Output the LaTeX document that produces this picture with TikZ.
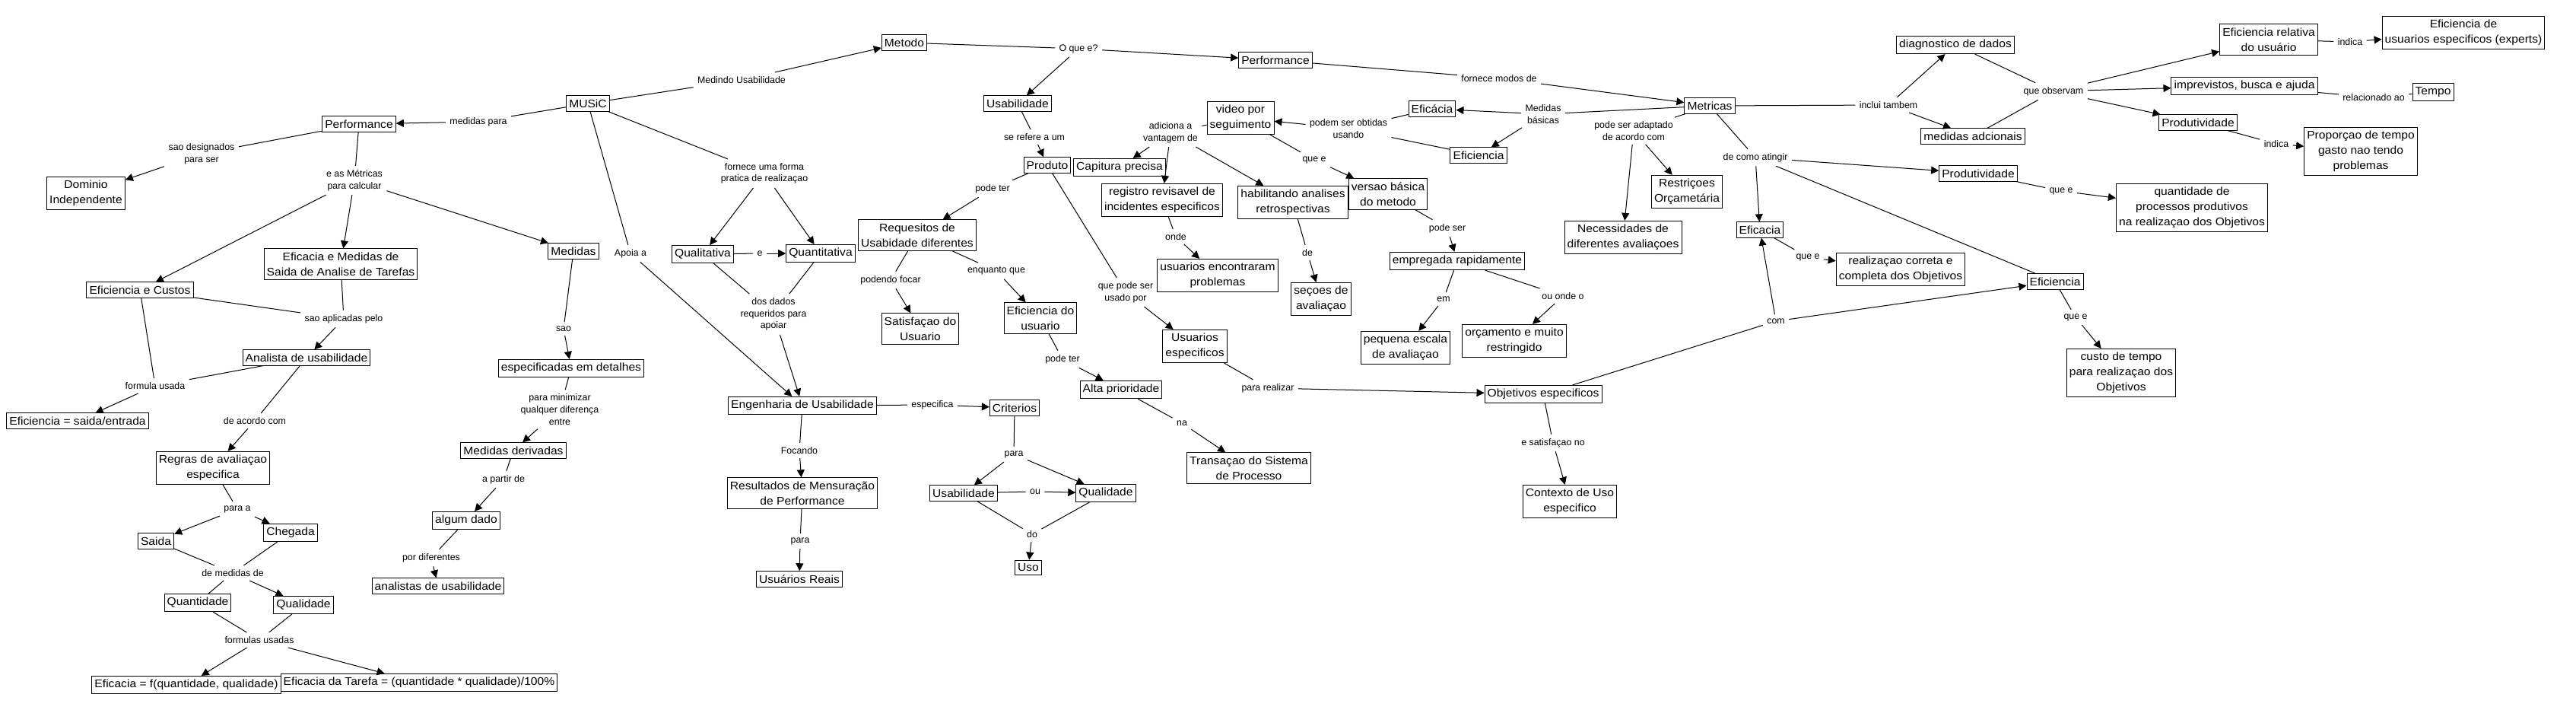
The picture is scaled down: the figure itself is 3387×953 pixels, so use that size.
\documentclass[tikz,border=0pt]{standalone}
\usepackage{fontspec}
\newfontfamily\cmapcfam[FakeStretch=1.07]{Liberation Sans}
\newfontfamily\cmaplfam{Liberation Sans}
\usetikzlibrary{arrows.meta}
\newcommand\cmapcfont{\cmapcfam\fontsize{7.3}{10}\selectfont}
\newcommand\cmaplfont{\cmaplfam\fontsize{6.2}{7.8}\selectfont}
\begin{document}
\begin{tikzpicture}[x=0.5pt,y=-0.5pt,line width=0.5pt,
  concept/.style={draw,line width=0.5pt,font=\cmapcfont,align=center,inner xsep=1.8pt,inner ysep=2.4pt},
  lab/.style={font=\cmaplfont,align=center,inner sep=2.5pt,fill=white},
  arr/.style={-{Triangle[length=5pt,width=5pt]}}]
\path[use as bounding box,fill=white] (0,0) rectangle (3387,953);
% concepts
\node[concept] (perfL) at (472,163) {Performance};
\node[concept] (dom) at (113,254) {Dominio\\Independente};
\node[concept] (efmed) at (448,347) {Eficacia e Medidas de\\Saida de Analise de Tarefas};
\node[concept] (efcus) at (184,381) {Eficiencia e Custos};
\node[concept] (anal) at (403,470) {Analista de usabilidade};
\node[concept] (efse) at (102,553) {Eficiencia = saida/entrada};
\node[concept] (regras) at (280,615) {Regras de avaliaçao\\especifica};
\node[concept] (saida) at (205,711) {Saida};
\node[concept] (cheg) at (382,700) {Chegada};
\node[concept] (quant) at (260,792) {Quantidade};
\node[concept] (qual) at (399,795) {Qualidade};
\node[concept] (effq) at (245,900) {Eficacia = f(quantidade, qualidade)};
\node[concept] (eftar) at (551,897) {Eficacia da Tarefa = (quantidade * qualidade)/100\%};
\node[concept] (medidas) at (754,330) {Medidas};
\node[concept] (espdet) at (751,484) {especificadas em detalhes};
\node[concept] (medder) at (675,592) {Medidas derivadas};
\node[concept] (algum) at (613,684) {algum dado};
\node[concept] (analistas) at (576,770) {analistas de usabilidade};
\node[concept] (music) at (773,136) {MUSiC};
\node[concept] (metodo) at (1189,56) {Metodo};
\node[concept] (qualit) at (924,334) {Qualitativa};
\node[concept] (quantit) at (1079,333) {Quantitativa};
\node[concept] (req) at (1206,309) {Requesitos de\\Usabidade diferentes};
\node[concept] (satisf) at (1210,432) {Satisfaçao do\\Usuario};
\node[concept] (efusu) at (1368,418) {Eficiencia do\\usuario};
\node[concept] (eng) at (1055,533) {Engenharia de Usabilidade};
\node[concept] (crit) at (1334,536) {Criterios};
\node[concept] (result) at (1055,648) {Resultados de Mensuração\\de Performance};
\node[concept] (ureais) at (1051,761) {Usuários Reais};
\node[concept] (usabM) at (1267,648) {Usabilidade};
\node[concept] (qualM) at (1454,648) {Qualidade};
\node[concept] (uso) at (1352,746) {Uso};
\node[concept] (usabT) at (1338,136) {Usabilidade};
\node[concept] (produto) at (1377,217) {Produto};
\node[concept] (capt) at (1472,220) {Capitura precisa};
\node[concept] (video) at (1631,155) {video por\\seguimento};
\node[concept] (registro) at (1528,263) {registro revisavel de\\incidentes especificos};
\node[concept] (habil) at (1700,266) {habilitando analises\\retrospectivas};
\node[concept] (versao) at (1825,255) {versao básica\\do metodo};
\node[concept] (usenc) at (1601,362) {usuarios encontraram\\problemas};
\node[concept] (secoes) at (1737,393) {seçoes de\\avaliaçao};
\node[concept] (empreg) at (1916,343) {empregada rapidamente};
\node[concept] (peq) at (1848,457) {pequena escala\\de avaliaçao};
\node[concept] (orc) at (1991,448) {orçamento e muito\\restringido};
\node[concept] (usesp) at (1571,455) {Usuarios\\especificos};
\node[concept] (alta) at (1474,512) {Alta prioridade};
\node[concept] (trans) at (1642,615) {Transaçao do Sistema\\de Processo};
\node[concept] (objesp) at (2029,518) {Objetivos especificos};
\node[concept] (contexto) at (2064,659) {Contexto de Uso\\especifico};
\node[concept] (perfT) at (1677,79) {Performance};
\node[concept] (eficaciaA) at (1883,143) {Eficácia};
\node[concept] (eficienciaM) at (1944,204) {Eficiencia};
\node[concept] (metricas) at (2248,139) {Metricas};
\node[concept] (diag) at (2571,59) {diagnostico de dados};
\node[concept] (medad) at (2594,179) {medidas adcionais};
\node[concept] (restr) at (2218,252) {Restriçoes\\Orçametária};
\node[concept] (necess) at (2134,312) {Necessidades de\\diferentes avaliaçoes};
\node[concept] (prodM) at (2601,228) {Produtividade};
\node[concept] (eficaciaR) at (2314,302) {Eficacia};
\node[concept] (realiz) at (2499,354) {realizaçao correta e\\completa dos Objetivos};
\node[concept] (eficienciaR) at (2702,370) {Eficiencia};
\node[concept] (custo) at (2789,490) {custo de tempo\\para realizaçao dos\\Objetivos};
\node[concept] (efrel) at (2983,52) {Eficiencia relativa\\do usuário};
\node[concept] (efexp) at (3239,43) {Eficiencia de\\usuarios especificos (experts)};
\node[concept] (impr) at (2951,113) {imprevistos, busca e ajuda};
\node[concept] (tempo) at (3199,121) {Tempo};
\node[concept] (prodR) at (2890,161) {Produtividade};
\node[concept] (propor) at (3104,199) {Proporçao de tempo\\gasto nao tendo\\problemas};
\node[concept] (qproc) at (2882,273) {quantidade de\\processos produtivos\\na realizaçao dos Objetivos};
% labels
\node[lab] (l1) at (629,160) {medidas para};
\node[lab] (l2) at (975,105) {Medindo Usabilidade};
\node[lab] (l3) at (1005,228) {fornece uma forma\\pratica de realizaçao};
\node[lab] (l4) at (829,333) {Apoia a};
\node[lab] (l5) at (265,202) {sao designados\\para ser};
\node[lab] (l6) at (466,237) {e as Métricas\\para calcular};
\node[lab] (l7) at (452,419) {sao aplicadas pelo};
\node[lab] (l8) at (204,507) {formula usada};
\node[lab] (l9) at (335,553) {de acordo com};
\node[lab] (l10) at (312,669) {para a};
\node[lab] (l11) at (306,753) {de medidas de};
\node[lab] (l12) at (341,841) {formulas usadas};
\node[lab] (l13) at (741,432) {sao};
\node[lab] (l14) at (736,538) {para minimizar\\qualquer diferença\\entre};
\node[lab] (l15) at (662,630) {a partir de};
\node[lab] (l16) at (567,733) {por diferentes};
\node[lab] (l17) at (999,333) {e};
\node[lab] (l18) at (1017,413) {dos dados\\requeridos para\\apoiar};
\node[lab] (l19) at (1226,532) {especifica};
\node[lab] (l20) at (1051,592) {Focando};
\node[lab] (l21) at (1052,711) {para};
\node[lab] (l22) at (1333,597) {para};
\node[lab] (l23) at (1361,646) {ou};
\node[lab] (l24) at (1357,702) {do};
\node[lab] (l25) at (1418,64) {O que e?};
\node[lab] (l26) at (1360,180) {se refere a um};
\node[lab] (l27) at (1305,248) {pode ter};
\node[lab] (l28) at (1171,368) {podendo focar};
\node[lab] (l29) at (1310,356) {enquanto que};
\node[lab] (l30) at (1397,472) {pode ter};
\node[lab] (l31) at (1554,556) {na};
\node[lab] (l32) at (1480,384) {que pode ser\\usado por};
\node[lab] (l33) at (1667,510) {para realizar};
\node[lab] (l34) at (2042,582) {e satisfaçao no};
\node[lab] (l35) at (2335,422) {com};
\node[lab] (l36) at (1971,103) {fornece modos de};
\node[lab] (l37) at (2029,150) {Medidas\\básicas};
\node[lab] (l38) at (1773,169) {podem ser obtidas\\usando};
\node[lab] (l39) at (1539,174) {adiciona a\\vantagem de};
\node[lab] (l40) at (1728,210) {que e};
\node[lab] (l41) at (1546,311) {onde};
\node[lab] (l42) at (1719,332) {de};
\node[lab] (l43) at (1903,300) {pode ser};
\node[lab] (l44) at (1898,393) {em};
\node[lab] (l45) at (2055,389) {ou onde o};
\node[lab] (l46) at (2148,172) {pode ser adaptado\\de acordo com};
\node[lab] (l47) at (2308,207) {de como atingir};
\node[lab] (l48) at (2483,138) {inclui tambem};
\node[lab] (l49) at (2700,120) {que observam};
\node[lab] (l50) at (3090,55) {indica};
\node[lab] (l51) at (3121,128) {relacionado ao};
\node[lab] (l52) at (2993,189) {indica};
\node[lab] (l53) at (2710,251) {que e};
\node[lab] (l54) at (2377,338) {que e};
\node[lab] (l55) at (2729,417) {que e};
% connectors
\draw (music) -- (l1); \draw[arr] (l1) -- (perfL);
\draw (music) -- (l2); \draw[arr] (l2) -- (metodo);
\draw (music) -- (l3); \draw[arr] (l3) -- (qualit); \draw[arr] (l3) -- (quantit);
\draw (music) -- (l4); \draw[arr] (l4) -- (eng);
\draw (perfL) -- (l5); \draw[arr] (l5) -- (dom);
\draw (perfL) -- (l6); \draw[arr] (l6) -- (efcus); \draw[arr] (l6) -- (efmed); \draw[arr] (l6) -- (medidas);
\draw (efcus) -- (l7); \draw (efmed) -- (l7); \draw[arr] (l7) -- (anal);
\draw (efcus) -- (l8); \draw (anal) -- (l8); \draw[arr] (l8) -- (efse);
\draw (anal) -- (l9); \draw[arr] (l9) -- (regras);
\draw (regras) -- (l10); \draw[arr] (l10) -- (saida); \draw[arr] (l10) -- (cheg);
\draw (saida) -- (l11); \draw (cheg) -- (l11); \draw (l11) -- (quant); \draw[arr] (l11) -- (qual);
\draw (quant) -- (l12); \draw (qual) -- (l12); \draw[arr] (l12) -- (effq); \draw[arr] (l12) -- (eftar);
\draw (medidas) -- (l13); \draw[arr] (l13) -- (espdet);
\draw (espdet) -- (l14); \draw[arr] (l14) -- (medder);
\draw (medder) -- (l15); \draw[arr] (l15) -- (algum);
\draw (algum) -- (l16); \draw[arr] (l16) -- (analistas);
\draw (qualit) -- (l17); \draw[arr] (l17) -- (quantit);
\draw (qualit) -- (l18); \draw (quantit) -- (l18); \draw[arr] (l18) -- (eng);
\draw (eng) -- (l19); \draw[arr] (l19) -- (crit);
\draw (eng) -- (l20); \draw[arr] (l20) -- (result);
\draw (result) -- (l21); \draw[arr] (l21) -- (ureais);
\draw (crit) -- (l22); \draw[arr] (l22) -- (usabM); \draw[arr] (l22) -- (qualM);
\draw (usabM) -- (l23); \draw[arr] (l23) -- (qualM);
\draw (usabM) -- (l24); \draw (qualM) -- (l24); \draw[arr] (l24) -- (uso);
\draw (metodo) -- (l25); \draw[arr] (l25) -- (usabT); \draw[arr] (l25) -- (perfT);
\draw (usabT) -- (l26); \draw[arr] (l26) -- (produto);
\draw (produto) -- (l27); \draw[arr] (l27) -- (req);
\draw (req) -- (l28); \draw[arr] (l28) -- (satisf);
\draw (req) -- (l29); \draw[arr] (l29) -- (efusu);
\draw (efusu) -- (l30); \draw[arr] (l30) -- (alta);
\draw (alta) -- (l31); \draw[arr] (l31) -- (trans);
\draw (produto) -- (l32); \draw[arr] (l32) -- (usesp);
\draw (usesp) -- (l33); \draw[arr] (l33) -- (objesp);
\draw (objesp) -- (l34); \draw[arr] (l34) -- (contexto);
\draw (objesp) -- (l35); \draw[arr] (l35) -- (eficaciaR); \draw[arr] (l35) -- (eficienciaR);
\draw (perfT) -- (l36); \draw[arr] (l36) -- (metricas);
\draw (metricas) -- (l37); \draw[arr] (l37) -- (eficaciaA); \draw[arr] (l37) -- (eficienciaM);
\draw (eficaciaA) -- (l38); \draw (eficienciaM) -- (l38); \draw[arr] (l38) -- (video);
\draw (video) -- (l39); \draw[arr] (l39) -- (capt); \draw[arr] (l39) -- (registro); \draw[arr] (l39) -- (habil);
\draw (video) -- (l40); \draw[arr] (l40) -- (versao);
\draw (registro) -- (l41); \draw[arr] (l41) -- (usenc);
\draw (habil) -- (l42); \draw[arr] (l42) -- (secoes);
\draw (versao) -- (l43); \draw[arr] (l43) -- (empreg);
\draw (empreg) -- (l44); \draw[arr] (l44) -- (peq);
\draw (empreg) -- (l45); \draw[arr] (l45) -- (orc);
\draw (metricas) -- (l46); \draw[arr] (l46) -- (necess); \draw[arr] (l46) -- (restr);
\draw (metricas) -- (l47); \draw[arr] (l47) -- (prodM); \draw[arr] (l47) -- (eficaciaR); \draw (l47) -- (eficienciaR);
\draw (metricas) -- (l48); \draw[arr] (l48) -- (diag); \draw[arr] (l48) -- (medad);
\draw (diag) -- (l49); \draw (medad) -- (l49); \draw[arr] (l49) -- (efrel); \draw[arr] (l49) -- (impr); \draw[arr] (l49) -- (prodR);
\draw (efrel) -- (l50); \draw[arr] (l50) -- (efexp);
\draw (impr) -- (l51); \draw (l51) -- (tempo);
\draw (prodR) -- (l52); \draw[arr] (l52) -- (propor);
\draw (prodM) -- (l53); \draw[arr] (l53) -- (qproc);
\draw (eficaciaR) -- (l54); \draw[arr] (l54) -- (realiz);
\draw (eficienciaR) -- (l55); \draw[arr] (l55) -- (custo);
\end{tikzpicture}
\end{document}
